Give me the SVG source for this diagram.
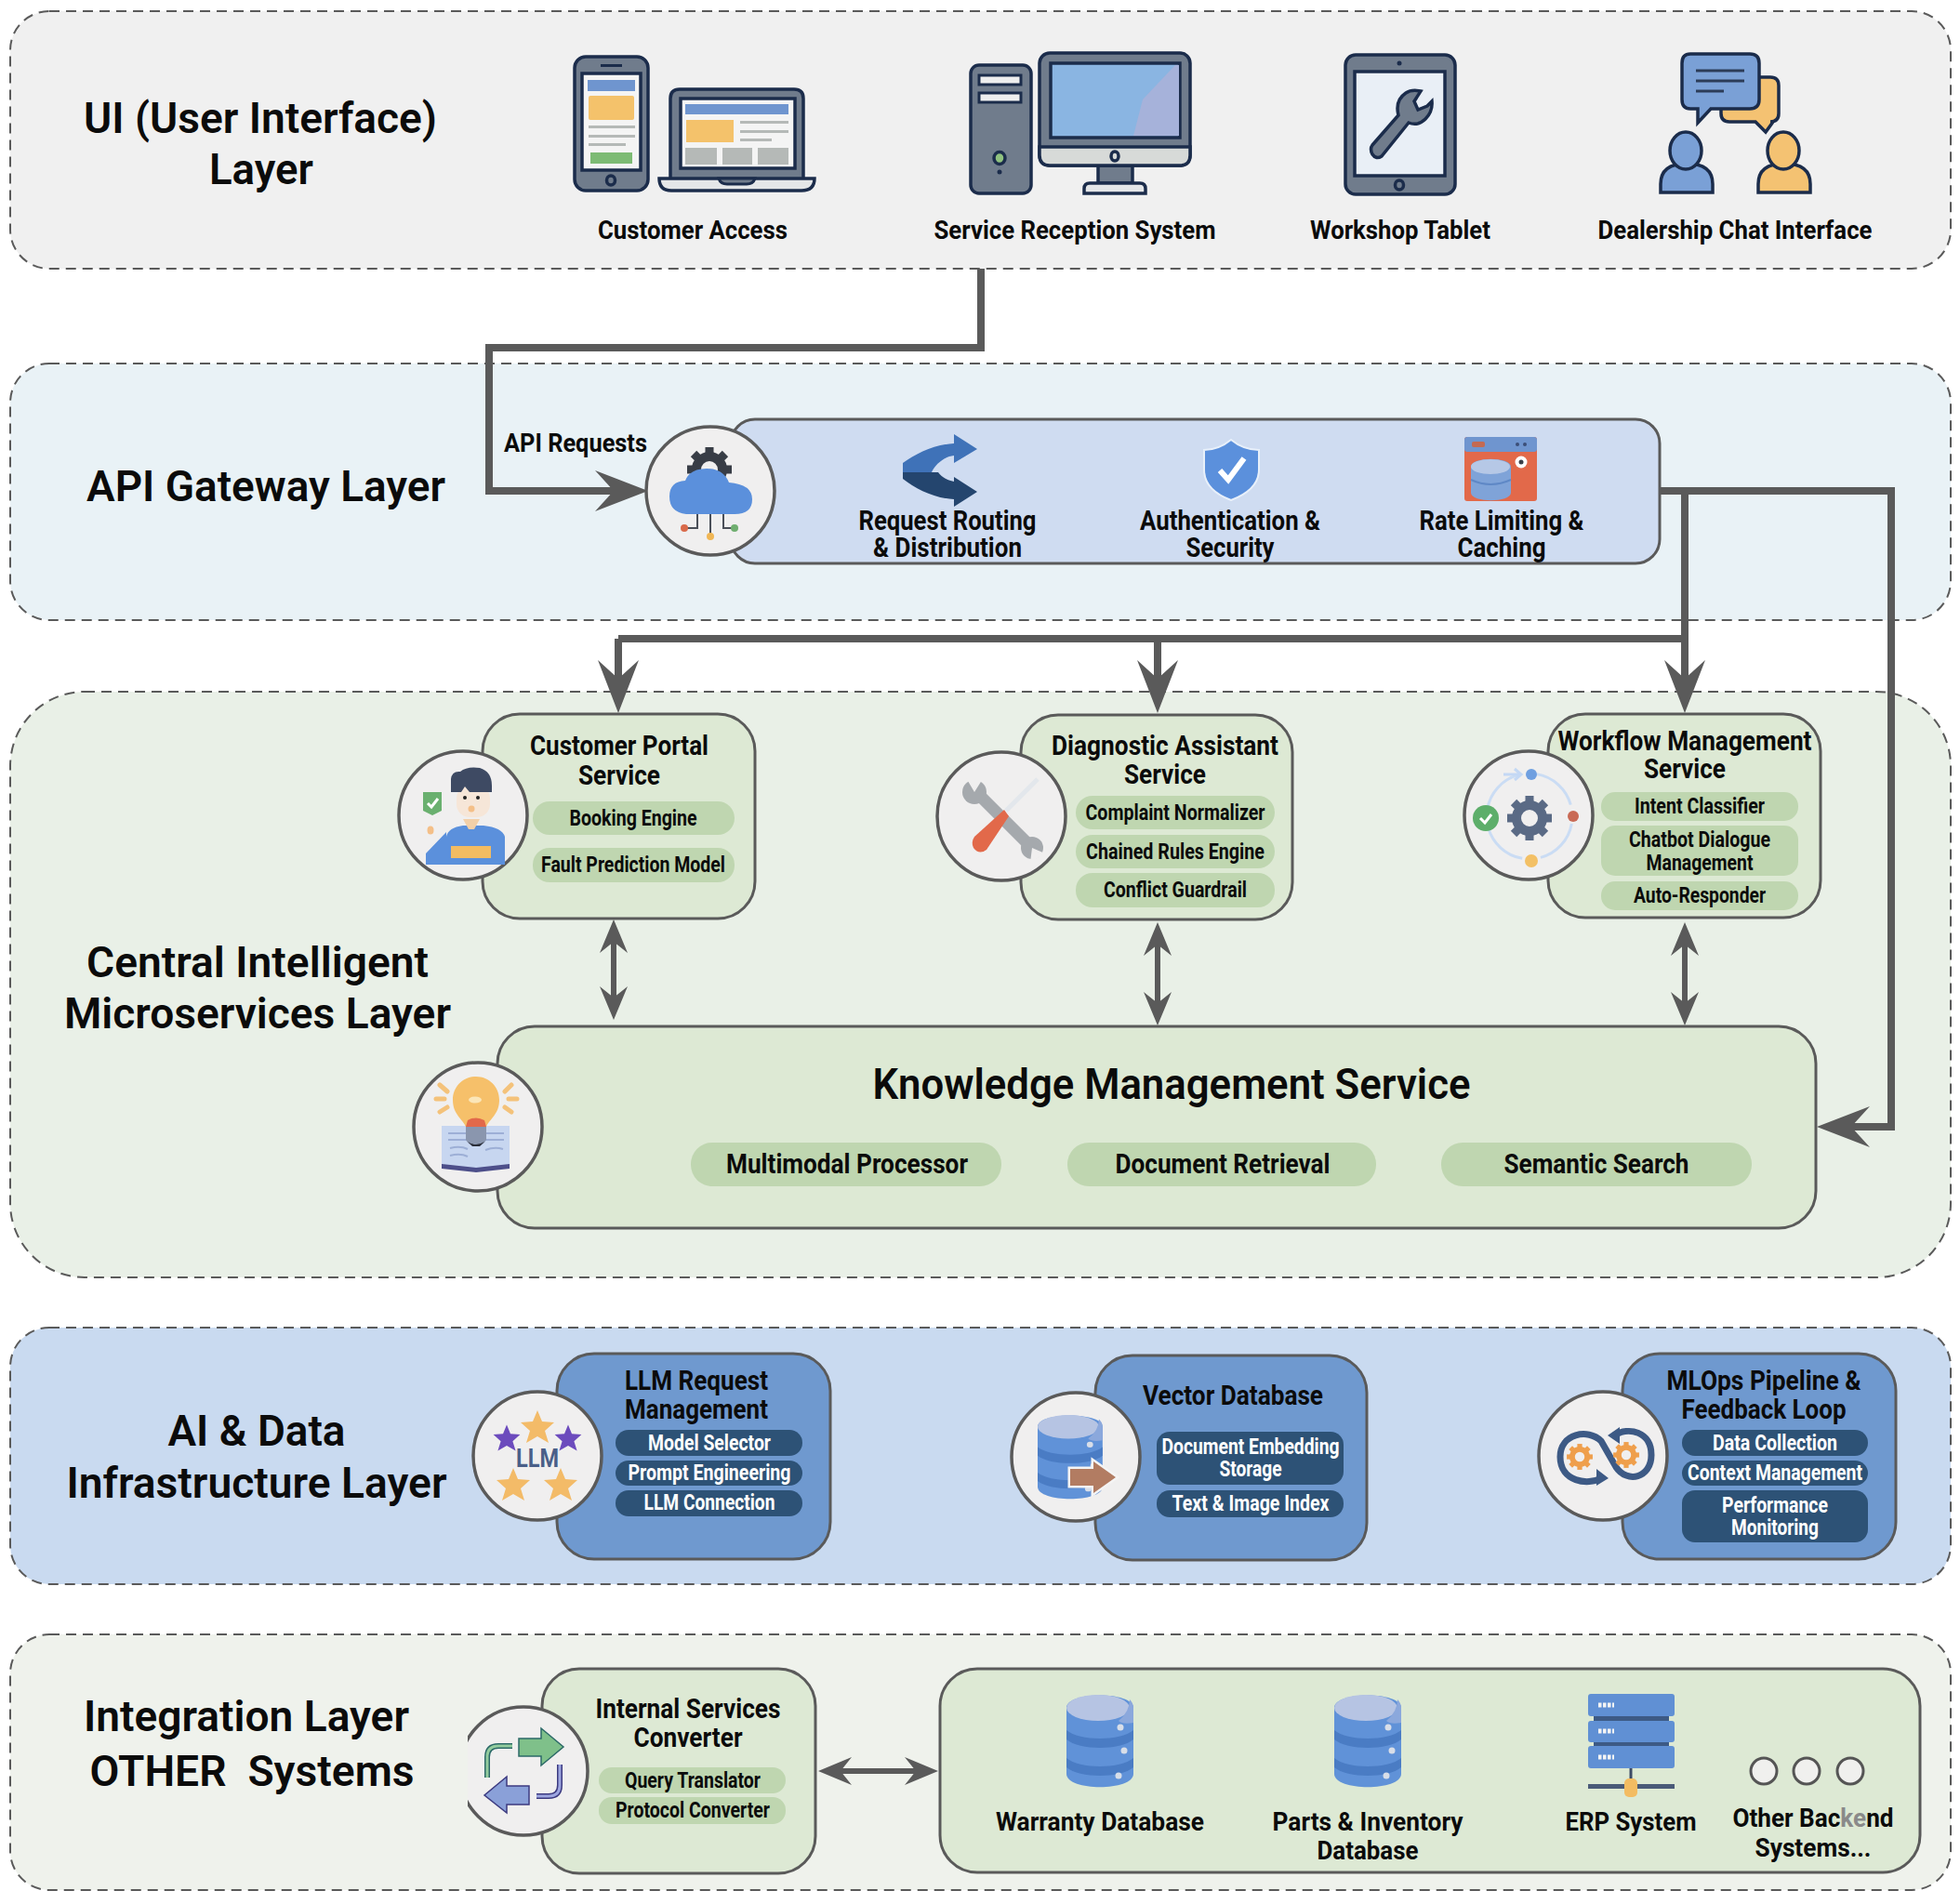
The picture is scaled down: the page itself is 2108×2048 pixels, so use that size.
<svg xmlns="http://www.w3.org/2000/svg" xmlns:xlink="http://www.w3.org/1999/xlink" width="2108" height="2048" viewBox="0 0 2108 2048">
<style>
text{font-family:Roboto,"Liberation Sans",sans-serif;font-weight:700;fill:#0b0b0b;text-anchor:middle}
.lt{font-size:47px;font-weight:600}.nt{font-size:29px}.lb{font-size:28px}.pt{font-size:23px}.w{fill:#fff}
.layer{stroke:#5a5a5a;stroke-width:2;stroke-dasharray:11 7}
.box{stroke:#5a5a5a;stroke-width:3}
.g{fill:#dde9d4}.b{fill:#6f99cf}
.pg{fill:#bfd6b0}.pb{fill:#2d5276}
.disc{fill:#f0efef;stroke:#5a5a5a;stroke-width:3.5}
.ic{stroke:#1b2c4b;stroke-width:3.5}
.con{fill:none;stroke:#5a5a5a;stroke-width:8}
.con2{fill:none;stroke:#5a5a5a;stroke-width:6}
.arw{fill:#5a5a5a}
.gl{fill:#b5b9b7}
</style>
<defs>
<marker id="big" markerUnits="userSpaceOnUse" viewBox="0 0 57 44" refX="25" refY="22" markerWidth="57" markerHeight="44" orient="auto"><path class="arw" d="M57 22L0 0L20 22L0 44Z"/></marker>
<marker id="sm" markerUnits="userSpaceOnUse" viewBox="0 0 36 30" refX="12" refY="15" markerWidth="36" markerHeight="30" orient="auto-start-reverse"><path class="arw" d="M36 15L0 0L12 15L0 30Z"/></marker>
<g id="gear"><circle r="14" fill="none" stroke="currentColor" stroke-width="10"/><g fill="currentColor"><rect x="-4.5" y="-24" width="9" height="9"/><rect x="-4.5" y="-24" width="9" height="9" transform="rotate(45)"/><rect x="-4.5" y="-24" width="9" height="9" transform="rotate(90)"/><rect x="-4.5" y="-24" width="9" height="9" transform="rotate(135)"/><rect x="-4.5" y="-24" width="9" height="9" transform="rotate(180)"/><rect x="-4.5" y="-24" width="9" height="9" transform="rotate(225)"/><rect x="-4.5" y="-24" width="9" height="9" transform="rotate(270)"/><rect x="-4.5" y="-24" width="9" height="9" transform="rotate(315)"/></g></g>
<g id="db"><path d="M0 14C0 -4 72 -4 72 14V85C72 104 0 104 0 85Z" fill="#6092d8"/><path d="M0 38C14 50 58 50 72 38V48C58 60 14 60 0 48ZM0 68C14 80 58 80 72 68V78C58 90 14 90 0 78Z" fill="#4a7cc4"/><ellipse cx="34" cy="14" rx="34" ry="14" fill="#b6c4e3"/><path d="M68 5Q72 9 72 14V30Q60 32 56 28Q68 18 68 5Z" fill="#8ba8dc"/><circle cx="58" cy="35" r="3.5" fill="#d8dee8"/><circle cx="62" cy="60" r="3.5" fill="#d8dee8"/><circle cx="56" cy="87" r="3.5" fill="#d8dee8"/></g>
<path id="star" d="M0 -18L5 -6L18 -5L8 4L12 17L0 10L-12 17L-8 4L-18 -5L-5 -6Z"/>
<clipPath id="cc"><rect x="503" y="1820" width="140" height="170"/></clipPath>
</defs>

<g id="layers">
<rect id="layer-ui" class="layer" x="11" y="12" width="2087" height="277" rx="42" fill="#f0f0f0"/>
<rect id="layer-api" class="layer" x="11" y="391" width="2087" height="276" rx="42" fill="#e9f2f6"/>
<rect id="layer-central" class="layer" x="11" y="744" width="2087" height="630" rx="80" fill="#e9f0e7"/>
<rect id="layer-ai" class="layer" x="11" y="1428" width="2087" height="276" rx="42" fill="#c9daf0"/>
<rect id="layer-int" class="layer" x="11" y="1758" width="2087" height="275" rx="42" fill="#eff2ec"/>
</g>

<g id="layer-titles">
<text class="lt" x="280" y="143" textLength="380" lengthAdjust="spacingAndGlyphs">UI (User Interface)</text>
<text class="lt" x="281" y="198" textLength="112" lengthAdjust="spacingAndGlyphs">Layer</text>
<text class="lt" x="286" y="539" textLength="386" lengthAdjust="spacingAndGlyphs">API Gateway Layer</text>
<text class="lt" x="277" y="1051" textLength="368" lengthAdjust="spacingAndGlyphs">Central Intelligent</text>
<text class="lt" x="277" y="1106" textLength="416" lengthAdjust="spacingAndGlyphs">Microservices Layer</text>
<text class="lt" x="276" y="1555" textLength="191" lengthAdjust="spacingAndGlyphs">AI &amp; Data</text>
<text class="lt" x="276" y="1611" textLength="409" lengthAdjust="spacingAndGlyphs">Infrastructure Layer</text>
<text class="lt" x="265" y="1862" textLength="350" lengthAdjust="spacingAndGlyphs">Integration Layer</text>
<text class="lt" x="271" y="1921" textLength="349" lengthAdjust="spacingAndGlyphs" xml:space="preserve">OTHER  Systems</text>
</g>

<g id="connectors">
<path class="con" d="M1055 289V374H526V528H665" marker-end="url(#big)"/>
<path class="con" d="M1785 528H2034V1212H1986" marker-end="url(#big)"/>
<path class="con" d="M1812 528V735" marker-end="url(#big)"/>
<path class="con" d="M665 687H1812"/>
<path class="con" d="M665 687V735" marker-end="url(#big)"/>
<path class="con" d="M1245 687V735" marker-end="url(#big)"/>
<path class="con2" d="M660 1013V1073" marker-start="url(#sm)" marker-end="url(#sm)"/>
<path class="con2" d="M1245 1016V1079" marker-start="url(#sm)" marker-end="url(#sm)"/>
<path class="con2" d="M1812 1016V1079" marker-start="url(#sm)" marker-end="url(#sm)"/>
<path class="con2" d="M904 1905H985" marker-start="url(#sm)" marker-end="url(#sm)"/>
</g>

<g id="customer-access">
<rect class="ic" x="618" y="61" width="79" height="144" rx="12" fill="#707c8c"/>
<rect class="ic" x="626" y="79" width="63" height="104" fill="#f4f4f4"/>
<rect x="632" y="86" width="51" height="12" fill="#6f95cf"/><rect x="633" y="103" width="49" height="26" rx="2" fill="#f4c26b"/>
<rect class="gl" x="633" y="135" width="50" height="3"/><rect class="gl" x="633" y="145" width="50" height="3"/><rect class="gl" x="633" y="154" width="40" height="3"/>
<rect x="635" y="164" width="45" height="12" fill="#7dbb74"/><rect x="646" y="69" width="23" height="3" fill="#1b2c4b"/>
<ellipse class="ic" cx="657" cy="194" rx="4.5" ry="5" fill="#707c8c"/>
<path class="ic" d="M721 193V106Q721 96 731 96H854Q864 96 864 106V193Z" fill="#707c8c"/>
<rect class="ic" x="732" y="106" width="123" height="75" fill="#f4f4f4"/>
<rect x="737" y="112" width="111" height="11" fill="#6f95cf"/><rect x="738" y="129" width="51" height="24" fill="#f4c26b"/>
<rect class="gl" x="796" y="130" width="52" height="3"/><rect class="gl" x="796" y="140" width="52" height="3"/><rect class="gl" x="796" y="149" width="34" height="3"/>
<rect class="gl" x="737" y="159" width="34" height="18"/><rect class="gl" x="777" y="159" width="32" height="18"/><rect class="gl" x="815" y="159" width="33" height="18"/>
<path class="ic" d="M709 192H876Q876 205 862 205H722Q709 205 709 192Z" fill="#e4e6e8"/>
<path d="M773 192H812Q810 198 803 198H782Q775 198 773 192Z" fill="#707c8c" stroke="#1b2c4b" stroke-width="3"/>
<text class="lb" x="745" y="257" textLength="204" lengthAdjust="spacingAndGlyphs">Customer Access</text>
</g>

<g id="service-reception">
<rect class="ic" x="1044" y="70" width="65" height="138" rx="9" fill="#707c8c"/>
<rect x="1053" y="81" width="45" height="10" fill="#eee" stroke="#1b2c4b" stroke-width="3"/><rect x="1053" y="100" width="45" height="10" fill="#eee" stroke="#1b2c4b" stroke-width="3"/>
<ellipse class="ic" cx="1075" cy="170" rx="6" ry="6.5" fill="#8fc17f"/><circle cx="1075" cy="185" r="2.5" fill="#1b2c4b"/>
<path class="ic" d="M1181 178V197H1218V178Z" fill="#707c8c"/>
<path class="ic" d="M1166 208V203Q1166 197 1172 197H1226Q1232 197 1232 203V208Z" fill="#e4e6e8"/>
<rect class="ic" x="1118" y="57" width="162" height="121" rx="11" fill="#707c8c"/>
<path d="M1118 158H1280V167Q1280 178 1269 178H1129Q1118 178 1118 167Z" fill="#d7dad8" stroke="#1b2c4b" stroke-width="3.5"/>
<rect class="ic" x="1130" y="68" width="139" height="80" fill="#8ab5e2"/>
<path d="M1219 146L1229 107L1264 70H1268V146Z" fill="#a6b2da"/>
<ellipse class="ic" cx="1199" cy="168" rx="4" ry="5" fill="#d7dad8"/>
<text class="lb" x="1156" y="257" textLength="303" lengthAdjust="spacingAndGlyphs">Service Reception System</text>
</g>

<g id="workshop-tablet">
<rect class="ic" x="1447" y="59" width="118" height="150" rx="11" fill="#707c8c"/>
<rect class="ic" x="1457" y="77" width="97" height="112" fill="#e9eff6"/>
<circle cx="1505" cy="68" r="2.5" fill="#1b2c4b"/><ellipse class="ic" cx="1505" cy="199" rx="4.5" ry="5" fill="#707c8c"/>
<path class="ic" stroke-width="3" d="M1476 156L1504 124Q1500 108 1512 100Q1518 96 1528 98L1521 109L1525 118L1535 114L1540 109Q1541 120 1533 128Q1525 136 1515 132L1486 168Q1480 172 1476 166Q1473 160 1476 156Z" fill="#707c8c"/>
<text class="lb" x="1506" y="257" textLength="194" lengthAdjust="spacingAndGlyphs">Workshop Tablet</text>
</g>

<g id="dealership-chat">
<path class="ic" d="M1860 83H1904Q1913 83 1913 92V122Q1913 131 1904 131H1907L1899 142L1888 131H1860Q1851 131 1851 122V92Q1851 83 1860 83Z" fill="#f4c272"/>
<path class="ic" d="M1818 58H1882Q1892 58 1892 68V107Q1892 117 1882 117H1840L1826 132L1826 117H1818Q1809 117 1809 107V68Q1809 58 1818 58Z" fill="#7aa0d6"/>
<path d="M1824 76H1876M1824 87H1876M1824 98H1854" stroke="#2c3c58" stroke-width="3"/>
<path class="ic" d="M1786 207V198Q1786 176 1814 176Q1842 176 1842 198V207Z" fill="#7aa0d6"/><ellipse class="ic" cx="1813" cy="162" rx="17" ry="20" fill="#7aa0d6"/>
<path class="ic" d="M1891 207V198Q1891 176 1919 176Q1947 176 1947 198V207Z" fill="#f4c272"/><ellipse class="ic" cx="1918" cy="162" rx="17" ry="20" fill="#f4c272"/>
<text class="lb" x="1866" y="257" textLength="295" lengthAdjust="spacingAndGlyphs">Dealership Chat Interface</text>
</g>

<g id="api-gateway">
<rect class="box" x="786" y="451" width="999" height="155" rx="26" fill="#cfdcf1"/>
<circle class="disc" cx="764" cy="528" r="69"/>
<use href="#gear" xlink:href="#gear" x="763" y="505" style="color:#383d46"/>
<path d="M738 553Q720 551 720 534Q720 518 737 517Q742 504 760 504Q778 504 784 519Q809 521 809 537Q809 553 790 553Z" fill="#5b90dc"/>
<path d="M764 553V574M750 553V568H738M778 553V568H790" fill="none" stroke="#4a4f58" stroke-width="2"/>
<circle cx="736" cy="568" r="4" fill="#d96a4a"/><circle cx="764" cy="577" r="4" fill="#f0b654"/><circle cx="790" cy="568" r="4" fill="#6fae6f"/>
<text class="lb" x="619" y="486" textLength="154" lengthAdjust="spacingAndGlyphs">API Requests</text>
</g>
<g id="request-routing">
<path d="M971 498C985 488 1005 478 1026 477V467L1051 483L1026 498V490C1016 491 1006 499 1002 508H971Z" fill="#3f72b8"/>
<path d="M971 508H1009C1012 512 1018 517 1026 518V513L1051 529L1026 545V537C1005 536 985 526 971 515Z" fill="#24456e"/>
<text class="nt" x="1019" y="570" textLength="191" lengthAdjust="spacingAndGlyphs">Request Routing</text>
<text class="nt" x="1019" y="599" textLength="160" lengthAdjust="spacingAndGlyphs">&amp; Distribution</text>
</g>
<g id="authentication">
<path d="M1324 473C1335 482 1345 484 1354 484V505C1354 522 1340 532 1324 538C1308 532 1295 522 1295 505V484C1303 484 1313 482 1324 473Z" fill="#5b90dc" stroke="#e8f0fa" stroke-width="2"/>
<path d="M1312 506L1321 516L1338 493" fill="none" stroke="#fff" stroke-width="6"/>
<text class="nt" x="1323" y="570" textLength="194" lengthAdjust="spacingAndGlyphs">Authentication &amp;</text>
<text class="nt" x="1323" y="599" textLength="95" lengthAdjust="spacingAndGlyphs">Security</text>
</g>
<g id="rate-limiting">
<rect x="1575" y="470" width="78" height="69" rx="3" fill="#e2694a"/><rect x="1575" y="470" width="78" height="16" rx="3" fill="#6f95cf"/>
<rect x="1583" y="475" width="14" height="6" rx="2" fill="#c46a52"/><circle cx="1632" cy="478" r="2" fill="#3c4f78"/><circle cx="1640" cy="478" r="2" fill="#3c4f78"/>
<path d="M1582 502C1582 491 1625 491 1625 502V530C1625 541 1582 541 1582 530Z" fill="#7fa3d8"/><ellipse cx="1603" cy="502" rx="21" ry="8" fill="#b6c8e6"/>
<path d="M1582 516Q1603 526 1625 516" fill="none" stroke="#5f88c6" stroke-width="2"/>
<circle cx="1636" cy="497" r="6.5" fill="#fff"/><circle cx="1636" cy="497" r="2.5" fill="#3a3f48"/>
<text class="nt" x="1615" y="570" textLength="177" lengthAdjust="spacingAndGlyphs">Rate Limiting &amp;</text>
<text class="nt" x="1615" y="599" textLength="95" lengthAdjust="spacingAndGlyphs">Caching</text>
</g>

<g id="customer-portal">
<rect class="box g" x="519" y="768" width="293" height="220" rx="40"/>
<circle class="disc" cx="498" cy="877" r="69"/>
<path d="M480 930V900Q482 890 498 888H520Q540 890 543 900V930ZM458 930V918L480 895V930Z" fill="#5b90dc"/>
<rect x="485" y="910" width="43" height="13" fill="#f3bc62"/>
<rect x="491" y="845" width="36" height="34" rx="14" fill="#f6e6d8"/><path d="M498 881H516L510 892H504Z" fill="#f3d0a8"/>
<path d="M485 852V838Q486 829 495 830Q502 824 516 826Q529 830 529 845V852H505L500 846L496 852Z" fill="#3e4a63"/>
<circle cx="500" cy="858" r="2" fill="#222"/><circle cx="514" cy="858" r="2" fill="#222"/><circle cx="507" cy="870" r="3.5" fill="#f4bf88"/>
<path d="M455 852H475V872L465 877L455 872Z" fill="#6ab06f"/><path d="M460 864L464 868L471 859" fill="none" stroke="#fff" stroke-width="3"/>
<ellipse cx="463" cy="893" rx="3.5" ry="4.5" fill="#f4bf88"/>
<text class="nt" x="666" y="812" textLength="192" lengthAdjust="spacingAndGlyphs">Customer Portal</text>
<text class="nt" x="666" y="844" textLength="88" lengthAdjust="spacingAndGlyphs">Service</text>
<rect class="pg" x="573" y="862" width="217" height="36" rx="18"/><text class="pt" x="681" y="888" textLength="137" lengthAdjust="spacingAndGlyphs">Booking Engine</text>
<rect class="pg" x="573" y="912" width="217" height="37" rx="18"/><text class="pt" x="681" y="938" textLength="198" lengthAdjust="spacingAndGlyphs">Fault Prediction Model</text>
</g>

<g id="diagnostic-assistant">
<rect class="box g" x="1098" y="769" width="292" height="220" rx="40"/>
<circle class="disc" cx="1077" cy="878" r="69"/>
<path d="M1050 852L1110 912" stroke="#a5a9ad" stroke-width="13"/>
<circle cx="1048" cy="852" r="13" fill="#a5a9ad"/><circle cx="1110" cy="912" r="12" fill="#a5a9ad"/>
<path d="M1048 852L1038 835L1058 836ZM1110 912L1124 918L1108 928Z" fill="#f0efef"/>
<path d="M1082 872L1116 838" stroke="#e3e7ec" stroke-width="5"/>
<path d="M1080 871L1085 878L1061 914Q1053 920 1047 912Q1044 906 1048 900Z" fill="#e2694a"/>
<text class="nt" x="1253" y="812" textLength="244" lengthAdjust="spacingAndGlyphs">Diagnostic Assistant</text>
<text class="nt" x="1253" y="843" textLength="88" lengthAdjust="spacingAndGlyphs">Service</text>
<rect class="pg" x="1157" y="856" width="214" height="36" rx="18"/><text class="pt" x="1264" y="882" textLength="193" lengthAdjust="spacingAndGlyphs">Complaint Normalizer</text>
<rect class="pg" x="1157" y="898" width="214" height="36" rx="18"/><text class="pt" x="1264" y="924" textLength="192" lengthAdjust="spacingAndGlyphs">Chained Rules Engine</text>
<rect class="pg" x="1157" y="939" width="214" height="37" rx="18"/><text class="pt" x="1264" y="965" textLength="154" lengthAdjust="spacingAndGlyphs">Conflict Guardrail</text>
</g>

<g id="workflow-management">
<rect class="box g" x="1665" y="768" width="293" height="219" rx="40"/>
<circle class="disc" cx="1644" cy="877" r="69"/>
<circle cx="1645" cy="878" r="46" fill="none" stroke="#cadcf4" stroke-width="3" stroke-dasharray="52 20" stroke-dashoffset="-8"/>
<use href="#gear" xlink:href="#gear" x="1645" y="880" style="color:#5a6a85"/>
<circle cx="1647" cy="833" r="6" fill="#6f9fe0"/><path d="M1617 833H1635M1629 827L1636 833L1629 839" fill="none" stroke="#c4d8f4" stroke-width="3"/>
<circle cx="1598" cy="880" r="14" fill="#5dae6a"/><path d="M1592 880L1597 885L1604 876" fill="none" stroke="#fff" stroke-width="3"/>
<circle cx="1692" cy="878" r="6" fill="#c96a55"/><circle cx="1647" cy="926" r="7" fill="#f3c065"/>
<text class="nt" x="1812" y="807" textLength="273" lengthAdjust="spacingAndGlyphs">Workflow Management</text>
<text class="nt" x="1812" y="837" textLength="88" lengthAdjust="spacingAndGlyphs">Service</text>
<rect class="pg" x="1722" y="852" width="212" height="31" rx="15"/><text class="pt" x="1828" y="875" textLength="140" lengthAdjust="spacingAndGlyphs">Intent Classifier</text>
<rect class="pg" x="1722" y="888" width="212" height="54" rx="15"/><text class="pt" x="1828" y="911" textLength="152" lengthAdjust="spacingAndGlyphs">Chatbot Dialogue</text><text class="pt" x="1828" y="936" textLength="115" lengthAdjust="spacingAndGlyphs">Management</text>
<rect class="pg" x="1722" y="948" width="212" height="31" rx="15"/><text class="pt" x="1828" y="971" textLength="142" lengthAdjust="spacingAndGlyphs">Auto-Responder</text>
</g>

<g id="knowledge-management">
<rect class="box g" x="535" y="1104" width="1418" height="217" rx="40"/>
<circle class="disc" cx="514" cy="1212" r="69"/>
<path d="M475 1211H509L512 1214L515 1211H548V1253L512 1258L475 1253Z" fill="#c7d6f0"/><path d="M475 1252L512 1256L548 1252V1257L512 1261L475 1257Z" fill="#4d4f8a"/>
<path d="M484 1235Q495 1232 503 1236M484 1243Q495 1240 503 1244M522 1237Q532 1233 541 1236M482 1219H503M522 1219H542M482 1226H503M522 1226H542" fill="none" stroke="#9dafd6" stroke-width="2"/>
<path d="M501 1212C498 1204 487 1199 487 1183C487 1169 498 1158 512 1158C526 1158 537 1169 537 1183C537 1199 526 1204 523 1212Z" fill="#f6c06a"/>
<path d="M503 1205Q512 1200 521 1205L523 1212H501Z" fill="#e2694a"/>
<path d="M501 1212H523V1226Q520 1232 512 1233Q504 1232 501 1226Z" fill="#8a96ae"/><path d="M503 1228Q512 1234 521 1228L516 1233H508Z" fill="#2b2f3a"/>
<ellipse cx="511" cy="1183" rx="7" ry="3.5" fill="#fbe6b8"/>
<path d="M473 1167L481 1174M469 1182H478M473 1196L481 1191M550 1167L543 1174M547 1182H556M550 1196L543 1191" fill="none" stroke="#f4c27a" stroke-width="5" stroke-linecap="round"/>
<text class="lt" x="1260" y="1182" textLength="643" lengthAdjust="spacingAndGlyphs">Knowledge Management Service</text>
<rect class="pg" x="743" y="1229" width="334" height="47" rx="23"/><text class="nt" x="911" y="1262" textLength="260" lengthAdjust="spacingAndGlyphs">Multimodal Processor</text>
<rect class="pg" x="1148" y="1229" width="332" height="47" rx="23"/><text class="nt" x="1315" y="1262" textLength="231" lengthAdjust="spacingAndGlyphs">Document Retrieval</text>
<rect class="pg" x="1550" y="1229" width="334" height="47" rx="23"/><text class="nt" x="1717" y="1262" textLength="199" lengthAdjust="spacingAndGlyphs">Semantic Search</text>
</g>

<g id="llm-request">
<rect class="box b" x="599" y="1456" width="294" height="221" rx="40"/>
<circle class="disc" cx="578" cy="1566" r="69"/>
<g fill="#f3bb68"><use href="#star" xlink:href="#star" x="578" y="1535"/><use href="#star" xlink:href="#star" x="552" y="1597"/><use href="#star" xlink:href="#star" x="603" y="1597"/></g>
<g fill="#6c4bbd"><use href="#star" xlink:href="#star" x="545" y="1547" transform="translate(545 1547) scale(.8) translate(-545 -1547)"/><use href="#star" xlink:href="#star" x="611" y="1547" transform="translate(611 1547) scale(.8) translate(-611 -1547)"/></g>
<text x="578" y="1578" style="font-size:27px;fill:#4a5f88" textLength="46" lengthAdjust="spacingAndGlyphs">LLM</text>
<text class="nt" x="749" y="1495" textLength="154" lengthAdjust="spacingAndGlyphs">LLM Request</text>
<text class="nt" x="749" y="1526" textLength="154" lengthAdjust="spacingAndGlyphs">Management</text>
<rect class="pb" x="662" y="1538" width="201" height="28" rx="14"/><text class="pt w" x="763" y="1560" textLength="132" lengthAdjust="spacingAndGlyphs">Model Selector</text>
<rect class="pb" x="662" y="1571" width="201" height="27" rx="14"/><text class="pt w" x="763" y="1592" textLength="175" lengthAdjust="spacingAndGlyphs">Prompt Engineering</text>
<rect class="pb" x="662" y="1603" width="201" height="28" rx="14"/><text class="pt w" x="763" y="1624" textLength="141" lengthAdjust="spacingAndGlyphs">LLM Connection</text>
</g>

<g id="vector-database">
<rect class="box b" x="1178" y="1458" width="292" height="220" rx="40"/>
<circle class="disc" cx="1157" cy="1567" r="69"/>
<use href="#db" xlink:href="#db" transform="translate(1116 1522) scale(.97 .91)"/>
<path d="M1151 1580H1176V1572L1200 1589L1176 1606V1598H1151Z" fill="#b27c62" stroke="#f4f4f4" stroke-width="5" paint-order="stroke"/>
<text class="nt" x="1326" y="1511" textLength="194" lengthAdjust="spacingAndGlyphs">Vector Database</text>
<rect class="pb" x="1244" y="1540" width="201" height="57" rx="14"/><text class="pt w" x="1345" y="1564" textLength="191" lengthAdjust="spacingAndGlyphs">Document Embedding</text><text class="pt w" x="1345" y="1588" textLength="67" lengthAdjust="spacingAndGlyphs">Storage</text>
<rect class="pb" x="1244" y="1603" width="201" height="29" rx="14"/><text class="pt w" x="1345" y="1625" textLength="169" lengthAdjust="spacingAndGlyphs">Text &amp; Image Index</text>
</g>

<g id="mlops-pipeline">
<rect class="box b" x="1745" y="1456" width="294" height="221" rx="40"/>
<circle class="disc" cx="1724" cy="1566" r="69"/>
<path d="M1722 1590C1708 1598 1678 1594 1678 1567C1678 1542 1708 1536 1722 1550L1738 1578C1750 1596 1776 1590 1776 1565C1776 1540 1752 1534 1736 1544" fill="none" stroke="#3d5a85" stroke-width="7"/>
<path d="M1717 1580L1730 1590L1717 1598ZM1742 1535L1729 1544L1742 1553Z" fill="#3d5a85"/>
<use href="#gear" xlink:href="#gear" transform="translate(1699 1567) scale(.58)" style="color:#ef9f4c"/>
<use href="#gear" xlink:href="#gear" transform="translate(1749 1565) scale(.58)" style="color:#ef9f4c"/>
<text class="nt" x="1897" y="1495" textLength="209" lengthAdjust="spacingAndGlyphs">MLOps Pipeline &amp;</text>
<text class="nt" x="1897" y="1526" textLength="177" lengthAdjust="spacingAndGlyphs">Feedback Loop</text>
<rect class="pb" x="1809" y="1538" width="200" height="28" rx="14"/><text class="pt w" x="1909" y="1560" textLength="134" lengthAdjust="spacingAndGlyphs">Data Collection</text>
<rect class="pb" x="1809" y="1571" width="200" height="27" rx="14"/><text class="pt w" x="1909" y="1592" textLength="188" lengthAdjust="spacingAndGlyphs">Context Management</text>
<rect class="pb" x="1809" y="1603" width="200" height="56" rx="14"/><text class="pt w" x="1909" y="1627" textLength="114" lengthAdjust="spacingAndGlyphs">Performance</text><text class="pt w" x="1909" y="1651" textLength="94" lengthAdjust="spacingAndGlyphs">Monitoring</text>
</g>

<g id="internal-services">
<rect class="box g" x="583" y="1795" width="294" height="220" rx="40"/>
<circle class="disc" cx="563" cy="1905" r="69" clip-path="url(#cc)"/>
<path d="M558 1870H582V1859L606 1879L582 1899V1889H558Z" fill="#7fc08a" stroke="#2c6a68" stroke-width="1.5"/>
<path d="M524 1912V1890Q524 1878 536 1878H551" fill="none" stroke="#2c6a68" stroke-width="6"/><path d="M524 1912V1890Q524 1878 536 1878H551" fill="none" stroke="#93cc9e" stroke-width="3"/>
<path d="M569 1921H545V1911L521 1931L545 1950V1941H569Z" fill="#8aa0d8" stroke="#3c3a80" stroke-width="1.5"/>
<path d="M602 1898V1920Q602 1932 590 1932H577" fill="none" stroke="#3c3a80" stroke-width="6"/><path d="M602 1898V1920Q602 1932 590 1932H577" fill="none" stroke="#9da6e0" stroke-width="3"/>
<text class="nt" x="740" y="1848" textLength="199" lengthAdjust="spacingAndGlyphs">Internal Services</text>
<text class="nt" x="740" y="1879" textLength="117" lengthAdjust="spacingAndGlyphs">Converter</text>
<rect class="pg" x="644" y="1901" width="201" height="28" rx="14"/><text class="pt" x="745" y="1923" textLength="146" lengthAdjust="spacingAndGlyphs">Query Translator</text>
<rect class="pg" x="644" y="1933" width="201" height="29" rx="14"/><text class="pt" x="745" y="1955" textLength="166" lengthAdjust="spacingAndGlyphs">Protocol Converter</text>
</g>

<g id="backend-systems">
<rect class="box g" x="1011" y="1795" width="1054" height="219" rx="40"/>
<use href="#db" xlink:href="#db" transform="translate(1147 1823)"/>
<use href="#db" xlink:href="#db" transform="translate(1435 1823)"/>
<text class="lb" x="1183" y="1969" textLength="224" lengthAdjust="spacingAndGlyphs">Warranty Database</text>
<text class="lb" x="1471" y="1969" textLength="205" lengthAdjust="spacingAndGlyphs">Parts &amp; Inventory</text>
<text class="lb" x="1471" y="2000" textLength="109" lengthAdjust="spacingAndGlyphs">Database</text>
<path d="M1754 1902V1918" stroke="#3d4a66" stroke-width="3"/><rect x="1708" y="1919" width="93" height="5" fill="#4a5a78"/><rect x="1747" y="1913" width="14" height="20" rx="5" fill="#f3bc62"/>
<g fill="#6090d4"><rect x="1708" y="1822" width="93" height="24" rx="3"/><rect x="1708" y="1851" width="93" height="23" rx="3"/><rect x="1708" y="1878" width="93" height="24" rx="3"/></g>
<path d="M1714 1846H1795V1851H1714ZM1714 1874H1795V1878H1714Z" fill="#3d5a85"/>
<path d="M1719 1834H1736M1719 1862H1736M1719 1890H1736" stroke="#f4f4f4" stroke-width="5" stroke-dasharray="3.5 1.5"/>
<text class="lb" x="1754" y="1969" textLength="141" lengthAdjust="spacingAndGlyphs">ERP System</text>
<g fill="#f0f0ee" stroke="#555" stroke-width="3"><circle cx="1897" cy="1905" r="14"/><circle cx="1943" cy="1905" r="14"/><circle cx="1990" cy="1905" r="14"/></g>
<text class="lb" x="1950" y="1965" textLength="173" lengthAdjust="spacingAndGlyphs">Other Bac<tspan style="fill:#8a8a8a">ke</tspan>nd</text>
<text class="lb" x="1950" y="1997" textLength="125" lengthAdjust="spacingAndGlyphs">Systems...</text>
</g>
</svg>
